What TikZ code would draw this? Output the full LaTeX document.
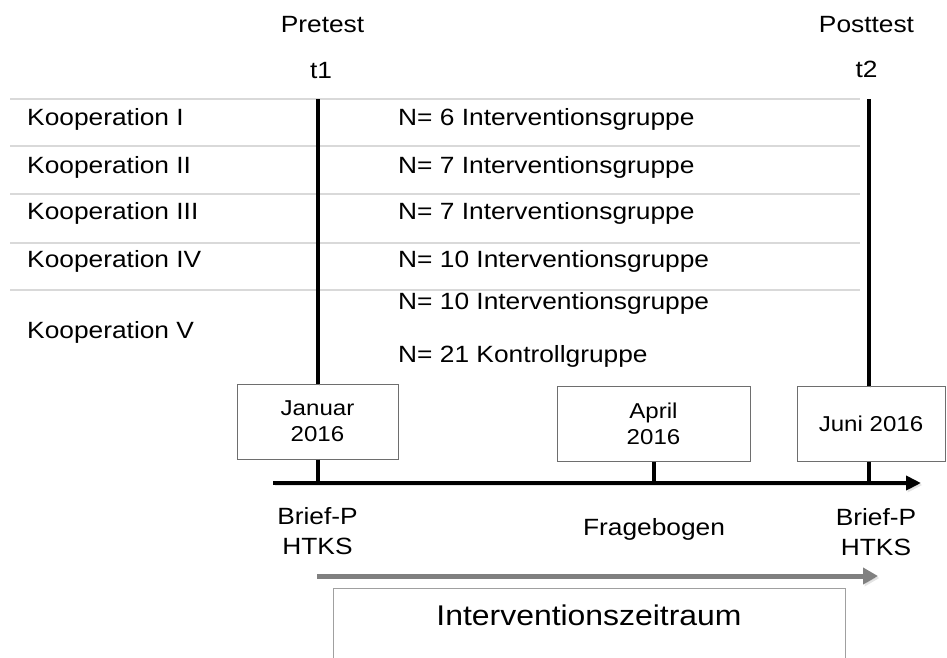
\documentclass[tikz,border=0pt]{standalone}
\usepackage{fontspec}
\setmainfont{Liberation Sans}[FakeStretch=1.12]
\usetikzlibrary{arrows.meta,positioning}
\definecolor{RowGray}{HTML}{D9D9D9}
\definecolor{BoxGray}{HTML}{6E6E6E}
\definecolor{ArrowGray}{HTML}{808080}
\definecolor{FrameGray}{HTML}{A0A0A0}
\tikzset{
  softshadow/.style={preaction={draw=black!30, opacity=0.35, transform canvas={shift={(1.5pt,-2pt)}}}},
  rowline/.style={draw=RowGray, line width=1.5pt},
  timeline/.style={draw=black, line width=4pt, softshadow},
  axisarrow/.style={-{Triangle[length=15pt,width=14pt]}, line width=4pt, draw=black, softshadow},
  grayarrow/.style={-{Triangle[length=15pt,width=16pt]}, line width=5pt, draw=ArrowGray, softshadow},
  datebox/.style={draw=BoxGray, line width=1pt, fill=white, align=center, inner sep=0pt, font=\fontsize{21.5}{26}\selectfont},
  rowtext/.style={anchor=base west, inner sep=0pt, font=\fontsize{23.5}{28}\selectfont},
  headtext/.style={anchor=base, inner sep=0pt, font=\fontsize{23.5}{30}\selectfont},
  periodbox/.style={draw=FrameGray, line width=1pt, fill=white, inner sep=0pt, font=\fontsize{28.5}{34}\selectfont},
}
\begin{document}
\begin{tikzpicture}[x=1pt,y=-1pt]
\path[use as bounding box] (0,0) rectangle (947,657);

% table rows
\foreach \y in {99,146,194,243,290}
  \draw[rowline] (10,\y) -- (860,\y);

\node[rowtext] (koopA) at (27,125) {Kooperation I};
\node[rowtext] (koopB) at (27,173) {Kooperation II};
\node[rowtext] (koopC) at (27,219) {Kooperation III};
\node[rowtext] (koopD) at (27,267) {Kooperation IV};
\node[rowtext] (koopE) at (27,338) {Kooperation V};
\node[rowtext] (grpA) at (398,125) {N= 6 Interventionsgruppe};
\node[rowtext] (grpB) at (398,173) {N= 7 Interventionsgruppe};
\node[rowtext] (grpC) at (398,219) {N= 7 Interventionsgruppe};
\node[rowtext] (grpD) at (398,267) {N= 10 Interventionsgruppe};
\node[rowtext] (grpE) at (398,309) {N= 10 Interventionsgruppe};
\node[rowtext] (grpK) at (398,362) {N= 21 Kontrollgruppe};

% measurement points
\node[headtext] (pre) at (322.5,32) {Pretest};
\node[headtext] (tone) at (321,78) {t1};
\node[headtext] (post) at (866.5,32) {Posttest};
\node[headtext] (ttwo) at (866.5,77) {t2};

\node[datebox,minimum width=161,minimum height=75] (jan) at (317.5,421.5) {Januar\\2016};
\node[datebox,minimum width=193,minimum height=75] (april) at (653.5,423.5) {April\\2016};
\node[datebox,minimum width=148,minimum height=75] (juni) at (871,423.5) {Juni 2016};

\coordinate (tonetop) at (317.5,99);
\coordinate (ttwotop) at (869,99);
\coordinate (axstart) at (273,483);
\coordinate (axend) at (921,483);

\draw[timeline] (tonetop) -- (jan.north);
\draw[timeline] (ttwotop) -- (ttwotop |- juni.north);
\draw[timeline] (jan.south) -- (jan.south |- axstart);
\draw[timeline] (april.south) -- (april.south |- axstart);
\draw[timeline] (juni.south -| ttwotop) -- (ttwotop |- axstart);
\draw[axisarrow] (axstart) -- (axend);

% instruments
\node[headtext,anchor=center,align=center] (testA) at (317.5,531.5) {Brief-P\\HTKS};
\node[headtext] (frage) at (654,535) {Fragebogen};
\node[headtext,anchor=center,align=center] (testB) at (876,532.5) {Brief-P\\HTKS};

% intervention period
\coordinate (perstart) at (317,576);
\coordinate (perend) at (878,576);
\draw[grayarrow] (perstart) -- (perend);
\node[periodbox,minimum width=512,anchor=north,text height=37,text depth=35] (period) at (589,588) {Interventionszeitraum};
\end{tikzpicture}
\end{document}
